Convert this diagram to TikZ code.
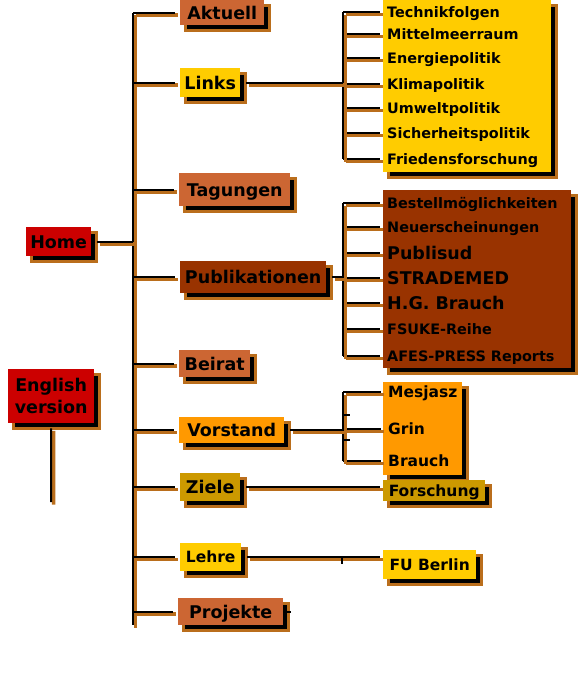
\documentclass[tikz,border=0pt]{standalone}
\usepackage{fontspec}
\setmainfont{DejaVu Sans}
\usetikzlibrary{shadows}

\definecolor{rust}{HTML}{CC6633}
\definecolor{gold}{HTML}{FFCC00}
\definecolor{chestnut}{HTML}{993300}
\definecolor{signal}{HTML}{CC0000}
\definecolor{tangerine}{HTML}{FF9900}
\definecolor{ochre}{HTML}{CC9900}
\definecolor{fringe}{HTML}{BA6E1C}

\newcommand{\menufont}{\bfseries\fontsize{17.5}{22}\selectfont}
\newcommand{\midfont}{\bfseries\fontsize{15.5}{18}\selectfont}

\tikzset{
    plate/.style={fill=#1, inner sep=0pt, anchor=north west, font=\menufont,
        drop shadow={shadow xshift=5pt, shadow yshift=-5pt, fill=black,
            draw=fringe, line width=3pt, opacity=1}},
    menu/.style={plate=#1, text height=12.8pt, text depth=0pt},
    entry/.style={anchor=west, inner sep=0pt, text depth=0pt,
        font=\bfseries\fontsize{#1}{16}\selectfont},
    entry/.default=14.4,
    conn/.style={line width=2pt, preaction={draw=fringe, line width=3.5pt,
        transform canvas={shift={(2.5pt,-2.5pt)}}}},
}

\begin{document}
\begin{tikzpicture}[x=1pt, y=-1pt]
    \useasboundingbox (0,0) rectangle (580,680);
    \coordinate (trunk) at (133,0);
    \coordinate (trunkend) at (133,625);
    \coordinate (linkbar) at (343,0);
    \coordinate (pubbar) at (343,0);
    \coordinate (vorbar) at (343,0);
    \coordinate (englishend) at (51,502);

    % main menu
    \node[menu=rust, minimum width=84pt, minimum height=25pt] (aktuell) at (180,0) {Aktuell};
    \node[menu=gold, minimum width=60pt, minimum height=29pt] (links) at (180,68) {Links};
    \node[menu=rust, minimum width=111pt, minimum height=33pt] (tagungen) at (179,173) {Tagungen};
    \node[menu=chestnut, minimum width=146pt, minimum height=32pt] (publikationen) at (180,261) {Publikationen};
    \node[menu=rust, minimum width=71pt, minimum height=27pt] (beirat) at (179,350) {Beirat};
    \node[menu=tangerine, minimum width=105pt, minimum height=26pt] (vorstand) at (179,417) {Vorstand};
    \node[menu=ochre, minimum width=60pt, minimum height=28pt] (ziele) at (180,473) {Ziele};
    \node[menu=gold, minimum width=61pt, minimum height=28pt, font=\midfont, text height=11.3pt] (lehre) at (180,543) {Lehre};
    \node[menu=rust, minimum width=105pt, minimum height=27pt] (projekte) at (178,598) {Projekte};

    \node[menu=signal, minimum width=65pt, minimum height=29pt] (home) at (26,227) {Home};
    \node[plate=signal, minimum width=86pt, minimum height=54pt, align=center] (english) at (8,369) {English\\version};

    % trunk and branches
    \draw[conn] (aktuell.west -| trunk) -- (trunkend);
    \foreach \m in {aktuell, links, tagungen, publikationen, beirat, vorstand, ziele, lehre, projekte}
        \draw[conn, shorten >=5pt] (\m.west -| trunk) -- (\m.west);
    \draw[conn, shorten <=6pt] (home.east) -- (home.east -| trunk);
    \draw[conn, shorten <=5pt] (english.south) -- (englishend);
    \draw[line width=2pt] ([xshift=4pt]projekte.east) -- ++(4,0);

    % links list
    \node[plate=gold, minimum width=168pt, minimum height=172pt] (linkbox) at (383,0) {};
    \foreach \name/\y/\txt in {lk1/12/Technikfolgen, lk2/34/Mittelmeerraum,
        lk3/58/Energiepolitik, lk4/84/Klimapolitik, lk5/108/Umweltpolitik,
        lk6/133/Sicherheitspolitik, lk7/159/Friedensforschung} {
        \node[entry, text height=10.5pt] (\name) at (387,\y) {\txt};
        \draw[conn, shorten >=7pt] (\name.west -| linkbar) -- (\name.west);
    }
    \draw[conn] (lk1.west -| linkbar) -- (lk7.west -| linkbar);
    \draw[conn, shorten <=6pt] (links.east) -- (links.east -| linkbar);

    % publications list
    \node[plate=chestnut, minimum width=188pt, minimum height=178pt] (pubbox) at (383,190) {};
    \foreach \name/\y/\sz/\txt in {pb1/203/14.4/Bestellmöglichkeiten, pb2/227/14.4/Neuerscheinungen,
        pb3/253/17.5/Publisud, pb4/278/17.5/STRADEMED, pb5/303/17.5/H.G. Brauch,
        pb6/329/14.4/FSUKE-Reihe, pb7/356/14.4/AFES-PRESS Reports} {
        \pgfmathsetmacro\hgt{0.73*\sz}
        \node[entry=\sz, text height=\hgt pt] (\name) at (387,\y) {\txt};
        \draw[conn, shorten >=7pt] (\name.west -| pubbar) -- (\name.west);
    }
    \draw[conn] (pb1.west -| pubbar) -- (pb7.west -| pubbar);
    \draw[conn, shorten <=6pt] (publikationen.east) -- (publikationen.east -| pubbar);

    % board list
    \node[plate=tangerine, minimum width=79pt, minimum height=93pt] (vorbox) at (383,382) {};
    \foreach \name/\y/\txt in {vs1/392/Mesjasz, vs2/429/Grin, vs3/461/Brauch} {
        \node[entry=15.5, text height=11.3pt] (\name) at (388,\y) {\txt};
        \draw[conn, shorten >=7pt] (\name.west -| vorbar) -- (\name.west);
    }
    \draw[conn] (vs1.west -| vorbar) -- (vs3.west -| vorbar);
    \draw[conn, shorten <=6pt] (vorstand.east) -- (vorstand.east -| vorbar);
    \foreach \y in {415, 440}
        \draw[line width=2pt] (343,\y) -- (350,\y);

    % single targets
    \node[menu=ochre, minimum width=102pt, minimum height=21pt, font=\midfont, text height=11pt] (forschung) at (383,480) {Forschung};
    \node[menu=gold, minimum width=93pt, minimum height=29pt, font=\midfont, text height=11.3pt] (fuberlin) at (383,550) {FU Berlin};
    \draw[conn, shorten <=6pt, shorten >=3pt] (ziele.east) -- (ziele.east -| forschung.west);
    \draw[conn, shorten <=6pt, shorten >=3pt] (lehre.east) -- (lehre.east -| fuberlin.west);
    \draw[line width=2pt] (342,556) -- (342,564);
\end{tikzpicture}
\end{document}
